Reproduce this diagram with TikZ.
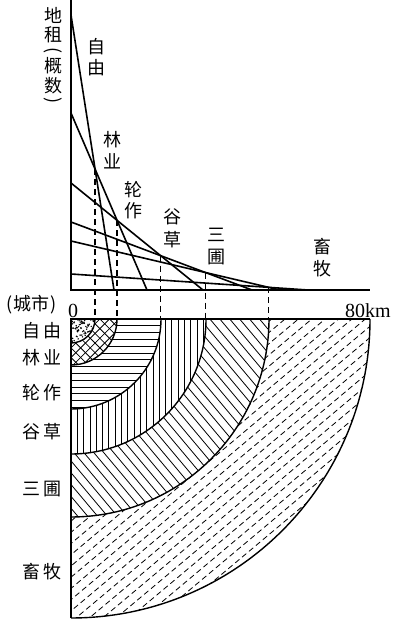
\documentclass[tikz,border=0pt]{standalone}
\usepackage{fontspec}
\setmainfont{Liberation Serif}
\newfontfamily\cjk{Noto Sans CJK SC}
\usetikzlibrary{calc}
\begin{document}
\begin{tikzpicture}[x=1pt,y=1pt,
  axis/.style={line width=1.5pt},
  curve/.style={line width=1.6pt},
  guide/.style={line width=1.4pt, dash pattern=on 6pt off 4pt},
  ring/.style={line width=1.4pt},
  hatch/.style={line width=0.8pt},
  dhatch/.style={line width=0.8pt, dash pattern=on 5.5pt off 3.5pt},
  lab/.style={font=\cjk\fontsize{18}{18}\selectfont, inner sep=0pt},
  num/.style={font=\fontsize{20}{20}\selectfont, inner sep=0pt},
  annsec/.style 2 args={insert path={(71+#1,303) -- (71+#2,303) arc[start angle=0,end angle=-90,radius=#2pt] -- (71,303-#1) arc[start angle=-90,end angle=0,radius=#1pt] -- cycle}},
]
\useasboundingbox (0,0) rectangle (400,622);
\coordinate (O) at (71,303);

% ---------- bottom: rings ----------
% 自由 dots
\begin{scope}
\clip (71,303) -- (95,303) arc[start angle=0,end angle=-90,radius=24pt] -- cycle;
\pgfmathsetseed{11}
\foreach \i in {1,...,75} {
  \pgfmathsetmacro\rr{24*sqrt(rnd)}
  \pgfmathsetmacro\aa{-90*rnd}
  \fill[shift={(71,303)}] (\aa:\rr pt) circle[radius=0.8pt];
}
\end{scope}
% 林业 crosshatch
\begin{scope}
\clip[annsec={24}{46}];
\foreach \k in {-20,...,20} {
  \draw[hatch,shift={(71,303)},rotate=45] (-120,\k*6.8) -- (120,\k*6.8);
  \draw[hatch,shift={(71,303)},rotate=-45] (-120,\k*6.8) -- (120,\k*6.8);
}
\end{scope}
% 轮作 horizontal
\begin{scope}
\clip[annsec={46}{90}];
\foreach \k in {0,...,15} {
  \draw[hatch] (71,303-\k*6.8) -- (170,303-\k*6.8);
}
\end{scope}
% 谷草 vertical
\begin{scope}
\clip[annsec={90}{135}];
\foreach \k in {0,...,25} {
  \draw[hatch] (71+\k*6.3,303) -- (71+\k*6.3,150);
}
\end{scope}
% 三圃 diagonal
\begin{scope}
\clip[annsec={135}{198}];
\foreach \k in {-40,...,40} {
  \draw[hatch,shift={(71,303)},rotate=-50] (-350,\k*7.6) -- (350,\k*7.6);
}
\end{scope}
% 畜牧 dashed diagonal
\begin{scope}
\clip[annsec={198}{299}];
\foreach \k in {-45,...,45} {
  \draw[dhatch,shift={(71,303)},rotate=40] (-400,\k*8.6) -- (400,\k*8.6);
}
\end{scope}
% ring boundaries
\foreach \r in {24,46,90,135,198,299} {
  \draw[ring] (71+\r,303) arc[start angle=0,end angle=-90,radius=\r pt];
}
\coordinate (E) at (370,303);
\coordinate (S) at (71,4);
\draw[axis] (E) -- (O) -- (S);

% ---------- top: graph ----------
\coordinate (Top) at (71,622);
\coordinate (Org) at (71,332);
\coordinate (Xend) at (370,332);
\draw[axis] (Top) -- (Org) -- (Xend);

\coordinate (f1) at (71,607); \coordinate (f2) at (114,332);
\coordinate (l1) at (71,509); \coordinate (l2) at (147,332);
\coordinate (r1) at (71,439); \coordinate (r2) at (203,332);
\coordinate (g1) at (71,400); \coordinate (g2) at (252,332);
\coordinate (s1) at (71,381); \coordinate (s2) at (280,332);
\coordinate (p1) at (71,348); \coordinate (p2) at (308,332);
\draw[curve] (f1) -- (f2);
\draw[curve] (l1) -- (l2);
\draw[curve] (r1) -- (r2);
\draw[curve] (g1) -- (g2);
\draw[curve] (s1) -- (s2);
\draw[curve] (p1) -- (p2);

\coordinate (i1) at (intersection of f1--f2 and l1--l2);
\coordinate (i2) at (intersection of l1--l2 and r1--r2);
\coordinate (i3) at (intersection of r1--r2 and g1--g2);
\coordinate (i4) at (intersection of g1--g2 and s1--s2);
\coordinate (i5) at (intersection of s1--s2 and p1--p2);
\foreach \i in {i1,i2,i3,i4,i5} {
  \draw[guide] (\i) -- (\i |- O);
}

% ---------- labels ----------
\node[lab] (ya1) at (53,607) {地};
\node[lab] (ya2) at (53,587) {租};
\node[lab,rotate=-90] (ya3) at (53,571) {(};
\node[lab] (ya4) at (53,556) {概};
\node[lab] (ya5) at (53,536) {数};
\node[lab,rotate=-90] (ya6) at (53,521) {)};

\node[lab] (t1a) at (96,575) {自};
\node[lab] (t1b) at (96,554) {由};
\node[lab] (t2a) at (112,482) {林};
\node[lab] (t2b) at (112,461) {业};
\node[lab] (t3a) at (133,432) {轮};
\node[lab] (t3b) at (133,411) {作};
\node[lab] (t4a) at (172,405) {谷};
\node[lab] (t4b) at (172,382) {草};
\node[lab] (t5a) at (216,387) {三};
\node[lab] (t5b) at (216,365) {圃};
\node[lab] (t6a) at (322,375) {畜};
\node[lab] (t6b) at (322,353) {牧};

\node[lab] (city) at (32,317) {(\hspace{1pt}城市\hspace{1pt})};
\node[num] (zero) at (73,311) {0};
\node[num] (km) at (368,311) {80km};

\node[lab] (b1) at (42,291) {自\hspace{3pt}由};
\node[lab] (b2) at (42,264) {林\hspace{3pt}业};
\node[lab] (b3) at (42,229) {轮\hspace{3pt}作};
\node[lab] (b4) at (42,190) {谷\hspace{3pt}草};
\node[lab] (b5) at (42,133) {三\hspace{3pt}圃};
\node[lab] (b6) at (42,50) {畜\hspace{3pt}牧};
\end{tikzpicture}
\end{document}
